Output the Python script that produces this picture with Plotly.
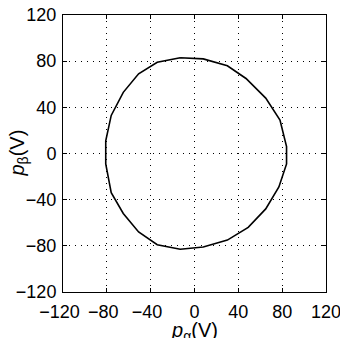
import plotly.graph_objects as go

# polygon vertices (closed loop)
p_alpha = [-13, 8, 30, 47, 65, 78, 84, 84, 77, 65, 49, 30, 8, -13, -34, -51, -65, -76, -81, -81, -76, -65, -51, -34, -13]
p_beta = [83, 82, 76, 65, 48, 29, 6, -9, -29, -48, -64, -75, -81, -83, -79, -68, -52, -34, -9, 11, 33, 53, 69, 79, 83]

tick_vals = [-120, -80, -40, 0, 40, 80, 120]
x_tick_text = ["\u2212120\u2009\u2009", "\u221280\u2009\u2009", "\u221240\u2009\u2009", "0", "40", "80", "120"]
y_tick_text = ["\u2212120", "\u221280", "\u221240", "0", "40", "80", "120"]
x_title = "<i>p</i><sub>α</sub>(V)"
y_title = "<i>p</i><sub>β</sub>(V)"

FONT = "Liberation Sans, Arial, sans-serif"

fig = go.Figure()
fig.add_trace(go.Scatter(x=p_alpha, y=p_beta, mode="lines",
                         line=dict(color="black", width=1.6), showlegend=False))

axis_common = dict(
    range=[-120, 120], tickvals=tick_vals, automargin=False, tickangle=0,
    showgrid=True, gridcolor="black", griddash="1px,5px", gridwidth=1,
    zeroline=False, showline=True, linecolor="black", linewidth=1,
    mirror="ticks", ticks="inside", ticklen=4, tickcolor="black",
    ticklabeloverflow="allow",
    tickfont=dict(family=FONT, size=18, color="black"),
)

fig.update_xaxes(**axis_common, ticktext=x_tick_text, ticklabelstandoff=3)
fig.update_yaxes(**axis_common, ticktext=y_tick_text, ticklabelstandoff=2)

fig.add_annotation(text=x_title, xref="paper", yref="paper", x=0.5, y=0,
                   xanchor="center", yanchor="top", yshift=-25, showarrow=False,
                   font=dict(family=FONT, size=20, color="black"))
fig.add_annotation(text=y_title, xref="paper", yref="paper", x=0, y=0.5,
                   xanchor="center", yanchor="middle", xshift=-45, showarrow=False,
                   textangle=-90, font=dict(family=FONT, size=20, color="black"))

fig.update_layout(
    width=340, height=338,
    margin=dict(l=63, r=14, t=15, b=46),
    paper_bgcolor="white", plot_bgcolor="white",
)

fig.write_html("out.html")
